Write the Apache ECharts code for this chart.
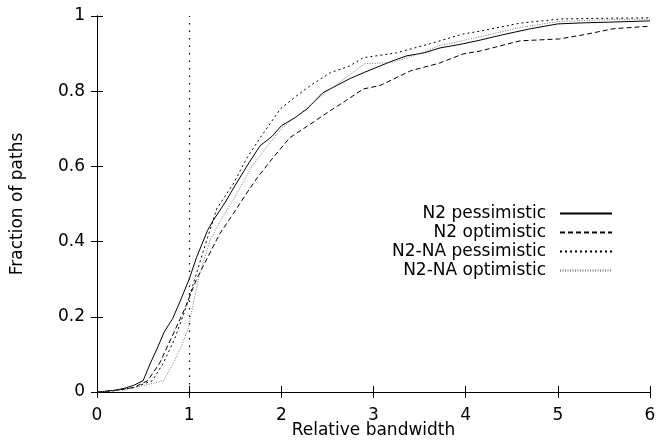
<!DOCTYPE html>
<html>
<head>
<meta charset="utf-8">
<script src="https://cdn.jsdelivr.net/npm/echarts@6/dist/echarts.min.js"></script>
<style>
  html, body { margin: 0; padding: 0; background: #fff; }
  #chart { width: 657px; height: 441px; }
</style>
</head>
<body>
<div id="chart"></div>
<script>
// CDF curves: x = relative bandwidth, y = fraction of paths
const n2PessX = [0, 0.1, 0.2, 0.3, 0.4, 0.5, 0.58, 0.66, 0.73, 0.82, 0.9, 1.0, 1.08, 1.2, 1.26, 1.39, 1.5, 1.65, 1.77, 1.9, 2.0, 2.15, 2.28, 2.45, 2.6, 2.74, 2.9, 3.07, 3.2, 3.36, 3.55, 3.72, 3.95, 4.16, 4.4, 4.7, 5.0, 5.3, 5.6, 6.0]
const n2PessY = [0, 0.002, 0.005, 0.01, 0.018, 0.03, 0.077, 0.12, 0.16, 0.195, 0.24, 0.3, 0.358, 0.43, 0.456, 0.504, 0.55, 0.61, 0.655, 0.68, 0.708, 0.73, 0.753, 0.796, 0.815, 0.833, 0.85, 0.867, 0.88, 0.894, 0.902, 0.915, 0.925, 0.936, 0.95, 0.966, 0.979, 0.982, 0.984, 0.987]

const n2OptX = [0, 0.2, 0.4, 0.55, 0.68, 0.8, 0.95, 1.08, 1.2, 1.33, 1.48, 1.6, 1.74, 1.9, 2.09, 2.3, 2.53, 2.7, 2.89, 3.07, 3.4, 3.72, 3.97, 4.16, 4.59, 5.02, 5.32, 5.6, 6.0]
const n2OptY = [0, 0.004, 0.012, 0.03, 0.077, 0.14, 0.22, 0.3, 0.358, 0.42, 0.475, 0.52, 0.57, 0.62, 0.676, 0.71, 0.748, 0.775, 0.806, 0.815, 0.854, 0.875, 0.899, 0.907, 0.934, 0.939, 0.952, 0.966, 0.973]

const naPessX = [0, 0.2, 0.4, 0.6, 0.72, 0.84, 0.96, 1.06, 1.16, 1.3, 1.48, 1.62, 1.77, 1.99, 2.15, 2.31, 2.53, 2.74, 2.89, 3.25, 3.61, 3.97, 4.16, 4.59, 5.02, 5.5, 6.0]
const naPessY = [0, 0.004, 0.012, 0.03, 0.077, 0.14, 0.22, 0.3, 0.38, 0.488, 0.554, 0.62, 0.676, 0.753, 0.785, 0.814, 0.849, 0.867, 0.889, 0.902, 0.926, 0.952, 0.96, 0.981, 0.992, 0.994, 0.995]

const naOptX = [0, 0.3, 0.55, 0.72, 0.83, 0.93, 0.99, 1.03, 1.1, 1.22, 1.35, 1.5, 1.68, 1.85, 2.0, 2.25, 2.5, 2.75, 2.9, 3.2, 3.5, 3.7, 4.16, 4.6, 5.0, 5.5, 6.0]
const naOptY = [0, 0.005, 0.02, 0.03, 0.077, 0.13, 0.17, 0.218, 0.3, 0.4, 0.46, 0.52, 0.6, 0.655, 0.7, 0.75, 0.8, 0.845, 0.873, 0.876, 0.9, 0.92, 0.945, 0.97, 0.985, 0.99, 0.992]

const xTicks = [0, 1, 2, 3, 4, 5, 6]
const yTicks = [0, 0.2, 0.4, 0.6, 0.8, 1]
const markX = 1

const zip = (xs, ys) => xs.map((x, i) => [x, ys[i]])

const font = 'DejaVu Sans, Liberation Sans, sans-serif'
const chart = echarts.init(document.getElementById('chart'))

const baseAxis = {
  axisLine: { show: true, lineStyle: { color: '#000', width: 1 } },
  axisTick: { show: true, inside: true, length: 6, lineStyle: { color: '#000' } },
  splitLine: { show: false }
}

const mkLine = (name, data, type, color) => ({
  name,
  type: 'line',
  data,
  symbol: 'none',
  showSymbol: false,
  animation: false,
  lineStyle: { color, width: 1, type },
  itemStyle: { color }
})

const series = [
  mkLine('N2 pessimistic', zip(n2PessX, n2PessY), 'solid', '#000'),
  mkLine('N2 optimistic', zip(n2OptX, n2OptY), [5, 3], '#000'),
  mkLine('N2-NA pessimistic', zip(naPessX, naPessY), [2, 3], '#000'),
  mkLine('N2-NA optimistic', zip(naOptX, naOptY), [1, 1.5], '#777')
]
series[0].markLine = {
  silent: true,
  symbol: 'none',
  label: { show: false },
  lineStyle: { color: '#000', type: [1.5, 6], width: 1.2 },
  data: [{ xAxis: markX }]
}

chart.setOption({
  animation: false,
  backgroundColor: '#fff',
  grid: { left: 97, right: 7, top: 16, bottom: 49, outerBoundsMode: 'none' },
  legend: {
    orient: 'vertical',
    right: 39,
    top: 200,
    align: 'right',
    itemGap: 2,
    itemWidth: 52,
    itemHeight: 16,
    itemStyle: { opacity: 0 },
    textStyle: { fontFamily: font, fontSize: 17, lineHeight: 16, color: '#000', width: 175, align: 'right', padding: [0, 9, 0, 0] },
    data: series.map(s => s.name)
  },
  xAxis: [
    Object.assign({}, baseAxis, {
      type: 'value',
      min: xTicks[0],
      max: xTicks[xTicks.length - 1],
      interval: 1,
      name: 'Relative bandwidth',
      nameLocation: 'middle',
      nameGap: 30,
      nameMoveOverlap: false,
      nameTextStyle: { fontFamily: font, fontSize: 17, color: '#000' },
      axisLabel: { fontFamily: font, fontSize: 17, color: '#000', margin: 15 }
    }),
    Object.assign({}, baseAxis, {
      type: 'value',
      position: 'top',
      min: xTicks[0],
      max: xTicks[xTicks.length - 1],
      interval: 1,
      axisLabel: { show: false }
    })
  ],
  yAxis: [
    Object.assign({}, baseAxis, {
      type: 'value',
      min: yTicks[0],
      max: yTicks[yTicks.length - 1],
      interval: 0.2,
      name: 'Fraction of paths',
      nameLocation: 'middle',
      nameGap: 71,
      nameMoveOverlap: false,
      nameTextStyle: { fontFamily: font, fontSize: 17, color: '#000' },
      axisLabel: { fontFamily: font, fontSize: 17, color: '#000', margin: 12, formatter: v => String(+v.toFixed(1)) }
    }),
    Object.assign({}, baseAxis, {
      type: 'value',
      position: 'right',
      min: yTicks[0],
      max: yTicks[yTicks.length - 1],
      interval: 0.2,
      axisLabel: { show: false }
    })
  ],
  series
})
</script>
</body>
</html>
